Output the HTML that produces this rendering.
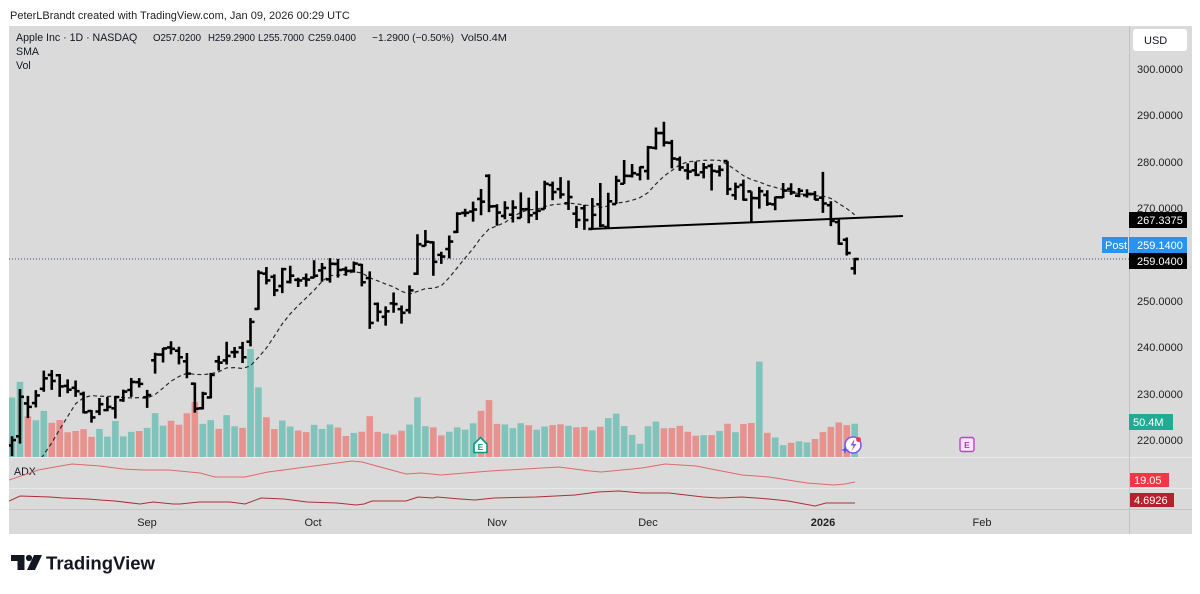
<!DOCTYPE html>
<html><head><meta charset="utf-8">
<style>
html,body{margin:0;padding:0;background:#fff;}
body{width:1200px;height:589px;overflow:hidden;position:relative;}
svg text{font-family:"Liberation Sans",Arial,sans-serif;}
</style></head>
<body>
<svg id="c" width="1200" height="589" viewBox="0 0 1200 589" xmlns="http://www.w3.org/2000/svg">
<defs>
<clipPath id="mp"><rect x="9" y="26" width="1120" height="431"/></clipPath>
<clipPath id="ap"><rect x="9" y="457" width="1120" height="52"/></clipPath>
</defs>
<rect x="0" y="0" width="1200" height="589" fill="#fff"/>
<rect x="9" y="26" width="1183" height="508" fill="#dadada"/>

<text x="10" y="19" font-size="11" fill="#222">PeterLBrandt created with TradingView.com, Jan 09, 2026 00:29 UTC</text>

<!-- pane separators -->
<line x1="9" y1="457.5" x2="1192" y2="457.5" stroke="#ececec" stroke-width="1"/>
<line x1="9" y1="488.5" x2="1192" y2="488.5" stroke="#e8e8e8" stroke-width="1"/>
<line x1="9" y1="509.5" x2="1192" y2="509.5" stroke="#c6c6c6" stroke-width="1"/>
<line x1="1129.5" y1="26" x2="1129.5" y2="534" stroke="#c2c2c2" stroke-width="1"/>

<g id="vol" clip-path="url(#mp)"></g>

<!-- price dotted line -->
<line x1="9" y1="259" x2="1129" y2="259" stroke="#3f4f73" stroke-width="1" stroke-dasharray="1 2"/>

<g clip-path="url(#mp)">
<polyline id="sma" fill="none" stroke="#2a2a2a" stroke-width="1.2" stroke-dasharray="4 3" points=""/>
<g id="bars" stroke="#000" stroke-width="2.6" fill="none"></g>
<line x1="590" y1="229" x2="903" y2="216" stroke="#000" stroke-width="2"/>
</g>

<!-- Legend -->
<text x="16" y="41" font-size="10.6" fill="#131722">Apple Inc · 1D · NASDAQ</text>
<text x="153" y="41" font-size="10.2" fill="#131722" textLength="48" lengthAdjust="spacingAndGlyphs">O257.0200</text>
<text x="208" y="41" font-size="10.2" fill="#131722" textLength="47" lengthAdjust="spacingAndGlyphs">H259.2900</text>
<text x="258" y="41" font-size="10.2" fill="#131722" textLength="46" lengthAdjust="spacingAndGlyphs">L255.7000</text>
<text x="308" y="41" font-size="10.2" fill="#131722" textLength="48" lengthAdjust="spacingAndGlyphs">C259.0400</text>
<text x="372" y="41" font-size="10.2" fill="#131722" textLength="82" lengthAdjust="spacingAndGlyphs">−1.2900 (−0.50%)</text>
<text x="461" y="41" font-size="10.2" fill="#131722" textLength="46" lengthAdjust="spacingAndGlyphs">Vol50.4M</text>
<text x="16" y="55" font-size="10.6" fill="#131722">SMA</text>
<text x="16" y="69" font-size="10.6" fill="#131722">Vol</text>

<!-- Earnings icons -->
<path d="M474,444 L480.5,437.5 L487,444 L487,452.5 L474,452.5 Z" fill="#fff" stroke="#089981" stroke-width="1.6"/>
<text x="480.5" y="450" font-size="8.5" font-weight="bold" fill="#089981" text-anchor="middle">E</text>
<rect x="960" y="437.5" width="14" height="14" rx="2" fill="#f6e4f8" stroke="#c13fd1" stroke-width="1.4"/>
<text x="967" y="448" font-size="8.5" font-weight="bold" fill="#b235c4" text-anchor="middle">E</text>
<!-- lightning icon -->
<circle cx="853" cy="445" r="8" fill="#fff" stroke="#8758ee" stroke-width="1.6"/>
<path d="M854.5,439 L850.5,445.5 L853.5,445.5 L851.5,451 L856.5,444 L853.5,444 Z" fill="#8758ee"/>
<circle cx="858.5" cy="439.5" r="2.4" fill="#f23645"/>
<path d="M845,446 L846,449 L849,450 L846,451 L845,454 L844,451 L841,450 L844,449 Z" fill="#4f5bea"/>

<!-- ADX -->
<text x="14" y="475" font-size="10.6" fill="#131722">ADX</text>
<g clip-path="url(#ap)">
<polyline fill="none" stroke="#e0686b" stroke-width="1" points="9,480 33,472 38,470 72,464 100,466 123,469 143,470 169,470 200,473 215,477 245,477 268,472 352,461 362,462 406,474 421,473 441,475 490,471 559,467 590,471 601,472 642,468 665,464 696,466 742,475 769,477 807,483 834,485 845,484 855,482"/>
<polyline fill="none" stroke="#b02d35" stroke-width="1" points="9,501 20,496 50,497 63,498 88,499 100,500 115,501 140,504 153,502 173,504 180,504 199,502 230,502 245,504 261,498 284,499 307,502 337,503 356,505 364,504 372,501 406,501 418,497 433,498 437,497 460,499 475,500 494,498 536,497 575,495 598,492 619,491 642,493 669,493 703,497 719,498 742,497 769,499 788,501 815,506 826,503 845,503 855,503"/>
</g>

<!-- Price axis -->
<rect x="1133" y="29" width="54" height="22" rx="3" fill="#fff"/>
<text x="1144" y="44" font-size="11" fill="#131722">USD</text>
<g font-size="11" fill="#222">
<text x="1137" y="73">300.0000</text>
<text x="1137" y="119">290.0000</text>
<text x="1137" y="166">280.0000</text>
<text x="1137" y="212">270.0000</text>
<text x="1137" y="305">250.0000</text>
<text x="1137" y="351">240.0000</text>
<text x="1137" y="398">230.0000</text>
<text x="1137" y="444">220.0000</text>
<text x="1137" y="481">20.55</text>
</g>
<rect x="1129" y="212" width="58" height="16" fill="#000"/>
<text x="1137" y="224" font-size="11" fill="#fff">267.3375</text>
<rect x="1102" y="237" width="26" height="16" fill="#2a93f0"/>
<text x="1105" y="249" font-size="11" fill="#fff">Post</text>
<rect x="1129" y="237" width="58" height="16" fill="#2a93f0"/>
<text x="1137" y="249" font-size="11" fill="#fff">259.1400</text>
<rect x="1129" y="253" width="58" height="16" fill="#000"/>
<text x="1137" y="265" font-size="11" fill="#fff">259.0400</text>
<rect x="1129" y="414" width="44" height="16" fill="#22ab94"/>
<text x="1133" y="426" font-size="11" fill="#fff">50.4M</text>
<rect x="1130" y="473" width="39" height="14" fill="#f23645"/>
<text x="1134" y="484" font-size="11" fill="#fff">19.05</text>
<rect x="1130" y="493" width="44" height="14" fill="#b5212c"/>
<text x="1134" y="504" font-size="11" fill="#fff">4.6926</text>

<!-- Time axis -->
<g font-size="11" fill="#222" text-anchor="middle">
<text x="147" y="526">Sep</text>
<text x="313" y="526">Oct</text>
<text x="497" y="526">Nov</text>
<text x="648" y="526">Dec</text>
<text x="823" y="526" font-weight="bold">2026</text>
<text x="982" y="526">Feb</text>
</g>

<!-- TradingView logo -->
<polygon points="11,555 24.5,555 24.5,570 17.5,570 17.5,561 11,561" fill="#131722"/>
<circle cx="29" cy="558" r="3.1" fill="#131722"/>
<polygon points="34,555 42,555 35,570 27,570" fill="#131722"/>
<text x="46" y="569.5" font-size="18.5" font-weight="bold" fill="#131722" textLength="109" lengthAdjust="spacingAndGlyphs">TradingView</text>
</svg>

<script>
const D=[
[218.88,220.85,216.58,220.03,90.2],[220.83,231.00,219.25,229.35,113.9],[227.92,229.56,224.76,227.18,61.8],[228.01,230.80,227.07,229.65,55.6],[231.07,235.00,230.43,233.33,69.9],
[234.06,235.12,230.85,232.78,51.9],[234.00,234.28,229.34,231.59,56.0],[231.70,233.12,230.11,230.89,37.5],[231.28,232.87,229.35,230.56,39.4],[229.98,230.47,225.77,226.01,42.3],
[226.27,226.52,223.78,224.90,30.6],[226.17,229.09,225.41,227.76,42.5],[226.48,229.30,226.23,227.16,30.9],[226.87,229.49,224.69,229.31,54.6],[228.61,230.90,228.26,230.49,31.3],
[230.82,233.41,229.34,232.56,38.1],[232.51,233.38,231.37,232.14,39.4],[229.25,230.85,226.97,229.72,44.1],[237.21,238.85,234.36,238.47,66.4],[238.45,239.90,236.74,239.78,47.5],
[240.00,241.32,238.49,239.69,54.9],[239.30,240.15,236.34,237.88,48.9],[237.00,238.78,233.36,234.35,66.3],[232.19,232.42,225.95,226.79,83.4],[226.88,230.45,226.65,230.03,50.2],
[229.22,234.51,229.02,234.07,55.8],[237.00,238.19,235.03,236.70,42.7],[237.18,241.22,236.32,238.15,63.4],[238.97,240.10,237.73,238.99,46.5],[239.97,241.20,236.65,237.88,44.2],
[241.23,246.30,240.21,245.50,163.7],[248.30,256.64,248.12,256.08,105.5],[255.88,257.34,253.58,254.43,60.3],[255.22,255.74,251.04,252.31,42.3],[253.21,257.17,251.71,256.87,55.2],
[254.10,257.60,253.78,255.46,46.1],[254.56,255.00,253.01,254.43,40.1],[254.86,255.92,253.11,254.63,37.7],[255.04,258.79,254.93,255.45,48.7],[256.58,258.18,254.15,257.13,42.6],
[254.67,259.24,253.95,258.02,49.2],[257.99,259.07,255.05,256.69,44.6],[256.81,257.40,255.43,256.48,31.9],[256.52,258.52,256.11,258.06,36.5],[257.81,258.00,253.14,254.04,38.3],
[254.94,256.38,244.00,245.27,61.9],[249.38,249.69,245.56,247.66,38.1],[246.60,248.85,244.70,247.77,35.5],[249.49,251.82,247.47,249.34,33.9],[248.25,249.04,245.13,247.45,39.8],
[248.02,253.38,247.27,252.29,49.1],[255.89,264.38,255.63,262.24,90.5],[261.88,265.29,261.83,262.77,46.7],[262.65,262.85,255.43,258.45,45.0],[259.94,260.62,258.01,259.58,32.8],
[261.19,264.13,259.18,262.82,38.3],[264.88,269.12,264.65,268.81,44.9],[268.99,269.89,268.15,269.00,41.5],[269.28,271.41,267.11,269.70,51.1],[271.99,274.14,268.48,271.40,69.9],
[276.99,277.32,269.16,270.37,86.2],[270.42,270.85,266.25,269.05,50.2],[268.33,271.49,267.62,270.04,49.3],[268.61,271.70,266.93,270.14,43.7],[267.89,273.40,267.89,269.77,51.2],
[269.80,272.29,266.77,268.47,48.2],[268.96,273.73,267.46,269.43,41.3],[269.81,275.91,269.80,275.25,46.2],[275.00,275.73,271.70,273.47,48.4],[274.11,276.70,272.09,272.95,49.6],
[271.05,275.96,269.60,272.41,47.4],[268.82,270.49,265.73,267.46,45.0],[269.99,270.71,265.32,267.44,45.7],[265.53,272.21,265.50,268.56,40.4],[270.83,275.43,265.92,266.25,45.8],
[265.95,273.33,265.67,271.49,59.0],[270.90,277.00,270.90,275.92,65.6],[275.27,280.38,275.25,276.97,46.9],[276.96,279.53,276.63,277.55,33.4],[277.26,279.00,275.99,278.85,20.1],
[278.01,283.42,276.14,283.10,46.6],[283.00,287.40,282.63,286.19,53.7],[286.20,288.62,283.30,284.15,43.5],[284.10,284.73,278.59,280.70,43.9],[280.54,281.14,278.05,278.78,47.2],
[278.13,279.67,276.15,277.89,38.2],[278.16,280.03,276.92,277.18,32.2],[277.75,279.75,276.44,278.78,33.0],[279.10,279.59,273.81,278.03,33.2],[277.90,279.22,276.82,278.28,39.5],
[280.15,280.15,272.84,274.11,50.4],[272.82,275.50,271.79,274.61,37.6],[275.01,276.16,271.64,271.84,50.1],[273.61,273.63,266.95,272.19,51.6],[272.15,274.60,269.90,273.67,144.6],
[272.86,273.88,270.51,270.97,36.6],[270.84,272.50,269.56,272.36,29.6],[272.34,275.43,272.20,273.81,17.9],[274.16,275.37,272.86,273.40,21.5],[272.69,274.36,272.35,273.76,23.7],
[272.81,274.08,272.28,273.08,22.1],[273.06,273.68,271.75,271.86,27.3],[272.26,277.84,269.00,271.01,37.8],[270.64,271.51,266.14,267.26,45.6],[267.00,267.55,262.12,262.36,52.4],
[263.20,263.68,259.81,260.33,48.3],[257.02,259.29,255.70,259.04,50.4]
];
const pre=[213.88,214.05,211.27,209.05,207.57,202.38,203.35,202.92,213.25];
const X=i=>12+i*7.95, Y=p=>69+(300-p)*4.64;
const closes=pre.concat(D.map(d=>d[3]));
let vol='',bars='',sma=[];
D.forEach((d,i)=>{
  const x=X(i);
  const h=d[4]*0.66;
  vol+='<rect x="'+(x-3.3).toFixed(2)+'" y="'+(457-h).toFixed(2)+'" width="6.6" height="'+h.toFixed(2)+'" fill="'+(d[3]>=d[0]?'#7fc3bb':'#e6938f')+'"/>';
  bars+='<path d="M'+x.toFixed(2)+' '+Y(d[1]).toFixed(2)+'V'+Y(d[2]).toFixed(2)+'M'+(x-4).toFixed(2)+' '+Y(d[0]).toFixed(2)+'H'+x.toFixed(2)+'M'+x.toFixed(2)+' '+Y(d[3]).toFixed(2)+'H'+(x+4).toFixed(2)+'"/>';
  let s=0; for(let k=i;k<i+10;k++) s+=closes[k];
  sma.push(x.toFixed(2)+','+Y(s/10).toFixed(2));
});
document.getElementById('vol').innerHTML=vol;
document.getElementById('bars').innerHTML=bars;
document.getElementById('sma').setAttribute('points',sma.join(' '));
</script>
</body></html>
